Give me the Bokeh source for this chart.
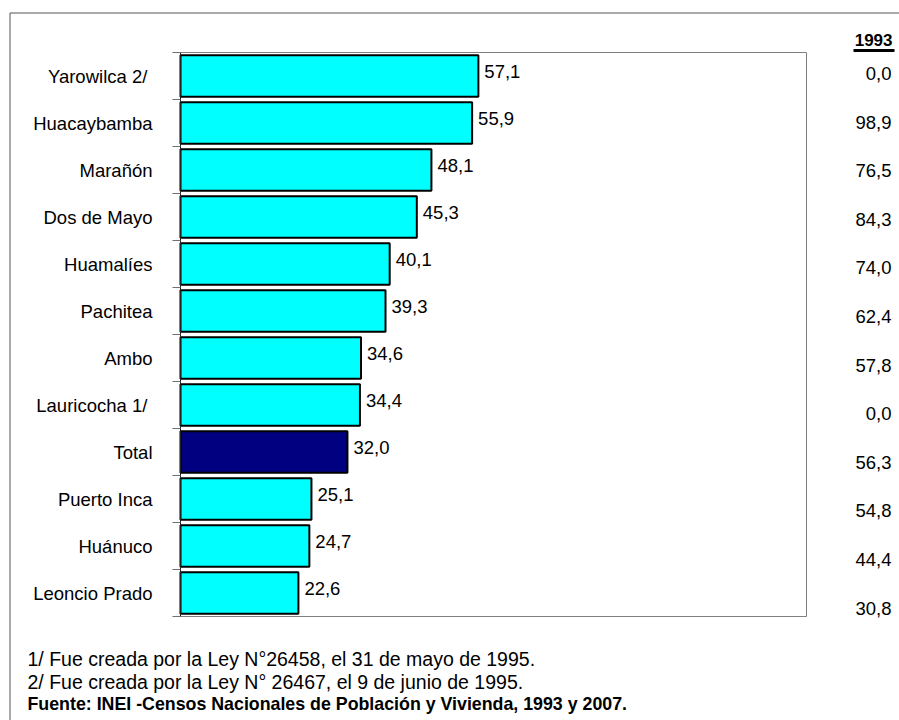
from bokeh.plotting import figure
from bokeh.models import Range1d, FixedTicker, ColumnDataSource, LinearAxis
from bokeh.core.properties import value
from bokeh.embed import file_html
from bokeh.resources import INLINE

# ---------------- data ----------------
provinces = ["Yarowilca  2/", "Huacaybamba", "Marañón", "Dos de Mayo", "Huamalíes",
             "Pachitea", "Ambo", "Lauricocha  1/", "Total", "Puerto Inca",
             "Huánuco", "Leoncio Prado"]
values_2007 = [57.1, 55.9, 48.1, 45.3, 40.1, 39.3, 34.6, 34.4, 32.0, 25.1, 24.7, 22.6]
values_1993 = [0.0, 98.9, 76.5, 84.3, 74.0, 62.4, 57.8, 0.0, 56.3, 54.8, 44.4, 30.8]
column_header = "1993"
notes = ["1/ Fue creada por la Ley N°26458, el 31 de mayo de 1995.",
         "2/ Fue creada por la Ley N° 26467, el 9 de junio de 1995."]
source_note = "Fuente: INEI -Censos Nacionales de Población y Vivienda, 1993 y 2007."

# ---------------- layout helpers (canvas pixels -> data) ----------------
W, H = 899, 720
FONT = "Liberation Sans"
X_MAX = 120
F_LEFT, F_RIGHT, F_TOP, F_BOTTOM = 180, 806, 52, 616   # inner plot box on canvas
n = len(provinces)


def dx(px):
    return (px - F_LEFT) * X_MAX / (F_RIGHT - F_LEFT)


def dy(py):
    return (n - 0.5) - (py - F_TOP) * n / (F_BOTTOM - F_TOP)


def fmt(v):
    return f"{v:.1f}".replace(".", ",")


ys = [n - 1 - i for i in range(n)]
colors = ["#000080" if name == "Total" else "#00FFFF" for name in provinces]

src = ColumnDataSource(dict(
    y=ys, v=values_2007, color=colors,
    lab=[fmt(v) for v in values_2007],
))

p = figure(width=W, height=H, output_backend="svg", toolbar_location=None,
           x_axis_type=None, y_axis_type=None,
           x_range=Range1d(dx(0), dx(W)), y_range=Range1d(dy(H), dy(0)),
           min_border=0)
p.background_fill_color = "white"
p.border_fill_color = "white"
p.outline_line_color = None

# outer frame (its right and bottom edges lie past the picture)
p.quad(left=dx(9.5), right=dx(W + 40), top=dy(12.5), bottom=dy(H + 40),
       fill_color=None, line_color="#555555", line_width=1)

# inner plot box
p.quad(left=0, right=X_MAX, bottom=-0.5, top=n - 0.5,
       fill_color=None, line_color="#808080", line_width=1)

# y axis at x = 0: ticks at category boundaries, labels at centres
ax = LinearAxis(fixed_location=0, bounds=(-0.5, n - 0.5))
ax.ticker = FixedTicker(ticks=ys, minor_ticks=[k - 0.5 for k in range(n + 1)])
ax.major_label_overrides = {y: name for y, name in zip(ys, provinces)}
ax.major_tick_line_color = None
ax.major_tick_out = 0
ax.major_tick_in = 0
ax.minor_tick_line_color = "#707070"
ax.minor_tick_out = 8
ax.minor_tick_in = 0
ax.axis_line_color = "#202020"
ax.axis_line_width = 1
ax.major_label_standoff = 20
ax.major_label_text_font = FONT
ax.major_label_text_font_size = "18.5px"
ax.major_label_text_color = "black"
p.add_layout(ax, "left")

# bars
p.hbar(y="y", left=0, right="v", height=0.88, fill_color="color",
       line_color="black", line_width=2, source=src)

# value labels
p.text(x="v", y="y", text="lab", source=src, x_offset=6, y_offset=-5,
       text_font=value(FONT), text_font_size="18.5px", text_color="black",
       text_align="left", text_baseline="middle")

# 1993 column at the right
right_src = ColumnDataSource(dict(
    x=[dx(891)] * n,
    y=[dy(73 + i * 48.6) for i in range(n)],
    t=[fmt(v) for v in values_1993],
))
p.text(x="x", y="y", text="t", source=right_src,
       text_font=value(FONT), text_font_size="18.5px", text_color="black",
       text_align="right", text_baseline="middle")
p.text(x=[dx(892)], y=[dy(39)], text=[column_header],
       text_font=value(FONT), text_font_size="17px", text_font_style="bold",
       text_color="black", text_align="right", text_baseline="middle")
p.quad(left=dx(853), right=dx(894), top=dy(48.5), bottom=dy(51.5),
       fill_color="black", line_color=None)

# footnotes
p.text(x=[dx(27)] * 2, y=[dy(658 + 23 * k) for k in range(2)], text=notes,
       text_font=value(FONT), text_font_size="19.5px", text_color="black",
       text_align="left", text_baseline="middle")
p.text(x=[dx(27)], y=[dy(703)], text=[source_note],
       text_font=value(FONT), text_font_size="17.8px", text_font_style="bold",
       text_color="black", text_align="left", text_baseline="middle")

open("out.html", "w").write(file_html(p, INLINE))
